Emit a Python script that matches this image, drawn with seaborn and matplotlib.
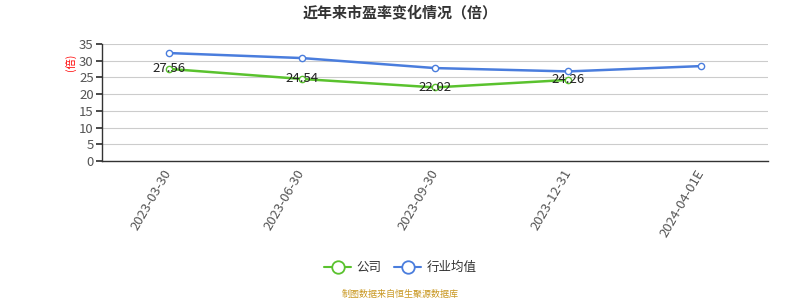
import numpy as np
import pandas as pd
import matplotlib
matplotlib.use("Agg")
import matplotlib.pyplot as plt
import seaborn as sns
from matplotlib.lines import Line2D

dates = ["2023-03-30", "2023-06-30", "2023-09-30", "2023-12-31", "2024-04-01E"]
company = [27.56, 24.54, 22.02, 24.26, np.nan]
industry = [32.3, 30.8, 27.8, 26.8, 28.4]
series_names = ["公司", "行业均值"]
colors = ["#5ac22e", "#4a7ddd"]

sns.set_theme(style="white")
plt.rcParams['font.family'] = ['Noto Sans CJK SC', 'DejaVu Sans']

df = pd.DataFrame({
    "x": list(range(len(dates))) * 2,
    "value": company + industry,
    "series": [series_names[0]] * len(dates) + [series_names[1]] * len(dates),
})

fig = plt.figure(figsize=(8, 3), dpi=100)
ax = fig.add_axes([0.1275, 0.4633, 0.8325, 0.39])

sns.lineplot(data=df, x="x", y="value", hue="series", palette=colors,
             hue_order=series_names, ax=ax, legend=False, linewidth=1.8,
             marker="o", markersize=4.5, markerfacecolor="white",
             markeredgewidth=1.0, sort=False)
for line, c in zip(ax.get_lines(), colors):
    line.set_markeredgecolor(c)

for i, v in enumerate(company):
    if not np.isnan(v):
        ax.text(i, v, f"{v:.2f}", ha="center", va="center", fontsize=9.5, color="#222222")

ax.set_xlim(-0.5, len(dates) - 0.5)
ax.set_ylim(0, 35)
ax.set_yticks(np.arange(0, 36, 5))
ax.yaxis.grid(True, color="#cccccc", linewidth=0.8)
ax.set_axisbelow(True)

ax.set_xticks(np.arange(-0.5, len(dates), 1.0))
ax.set_xticklabels([])
ax.tick_params(axis="x", which="major", length=4, color="#333333", width=1)
ax.set_xticks(range(len(dates)), minor=True)
ax.set_xticklabels(dates, minor=True, rotation=60, ha="right", va="center",
                   rotation_mode="anchor", fontsize=9.5, color="#555555")
ax.tick_params(axis="x", which="minor", length=0, pad=7)
ax.tick_params(axis="y", length=4, color="#333333", labelsize=9.5, labelcolor="#555555", pad=2, left=True)

for s in ["top", "right"]:
    ax.spines[s].set_visible(False)
for s in ["left", "bottom"]:
    ax.spines[s].set_color("#333333")
    ax.spines[s].set_linewidth(1)

ax.set_xlabel("")
ax.set_ylabel("")
fig.text(0.0875, 0.793, "(倍)", rotation=90, color="red", fontsize=7.5, ha="center", va="center")

fig.text(0.5, 0.958, "近年来市盈率变化情况（倍）", ha="center", va="center", fontsize=10.8,
         fontweight="bold", color="#333333")

handles = [Line2D([0], [0], color=c, linewidth=1.5, marker="o", markersize=9,
                  markerfacecolor="white", markeredgewidth=1.3, markeredgecolor=c)
           for c in colors]
fig.legend(handles, series_names, loc="center", bbox_to_anchor=(0.5, 0.107), ncol=2,
           frameon=False, fontsize=9, handlelength=2.2, columnspacing=1.0, handletextpad=0.4,
           labelcolor="#333333")

fig.text(0.5, 0.017, "制图数据来自恒生聚源数据库", ha="center", va="center", fontsize=6.5,
         color="#c8961e")

fig.savefig("out.png", dpi=100)
